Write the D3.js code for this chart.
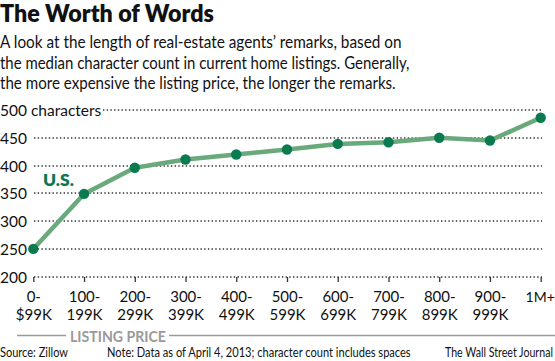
<!DOCTYPE html>
<html><head><meta charset="utf-8">
<script src="https://cdn.jsdelivr.net/npm/d3@7"></script>
<style>body{margin:0;background:#fff}svg{display:block}text{font-family:Lato,"Noto Sans",sans-serif}</style>
</head><body>
<svg id="c" width="555" height="361"></svg>
<script>
const categories = ["0-$99K","100-199K","200-299K","300-399K","400-499K","500-599K","600-699K","700-799K","800-899K","900-999K","1M+"];
const values = [250, 349, 396, 411, 420, 429, 439, 442, 450, 445, 486];
const yTicks = [200, 250, 300, 350, 400, 450, 500];
const title = "The Worth of Words";
const subtitle = ["A look at the length of real-estate agents\u2019 remarks, based on",
  "the median character count in current home listings. Generally,",
  "the more expensive the listing price, the longer the remarks."];
const seriesLabel = "U.S.";
const xTitle = "LISTING PRICE";
const source = "Source: Zillow";
const note = "Note: Data as of April 4, 2013; character count includes spaces";
const credit = "The Wall Street Journal";

const svg = d3.select("#c");
const x = d3.scalePoint().domain(categories).range([33.3, 540.7]);
const y = d3.scaleLinear().domain([200, 500]).range([276.7, 110]);
const dark = "#0b7a4f", light = "#6aa97c";

function fitText(str, x0, y0, size, weight, fill, w) {
  const g = svg.append("g").attr("transform", `translate(${x0},${y0})`);
  const t = g.append("text").attr("font-size", size).attr("font-weight", weight).attr("fill", fill).text(str);
  const nat = t.node().getComputedTextLength();
  t.attr("transform", `scale(${w / nat},1)`);
  return t;
}

fitText(title, 0, 22, 24, 800, "#111", 214);
const subW = [402, 410, 396];
subtitle.forEach((s, i) => fitText(s, 0, 48 + i * 20.6, 17.5, 400, "#111", subW[i]));

// dotted gridlines
const gridStart = d => d === 500 ? 103 : 34;
svg.append("g").attr("class", "grid").selectAll("line").data(yTicks).join("line")
  .attr("x1", d => gridStart(d)).attr("x2", 542)
  .attr("y1", d => Math.round(y(d))).attr("y2", d => Math.round(y(d)))
  .style("stroke", "#333").style("stroke-width", "1.4px").style("stroke-dasharray", "1.4 2.3");

// y axis labels
const gy = svg.append("g")
  .call(d3.axisRight(y).tickValues(yTicks).tickSize(0).tickPadding(0)
    .tickFormat(d => d === 500 ? d + " characters" : d));
gy.select(".domain").remove();
gy.selectAll(".tick text").attr("x", 0).attr("text-anchor", "start").attr("font-size", 15.5)
  .attr("fill", "#111").attr("dy", "0.35em").attr("font-family", "Lato,'Noto Sans',sans-serif");

// x axis
const gx = svg.append("g").attr("transform", `translate(0,${Math.round(y(200))})`)
  .call(d3.axisBottom(x).tickSize(5).tickPadding(0));
gx.select(".domain").remove();
gx.selectAll(".tick line").attr("stroke", "#333").attr("stroke-width", 1.3);
gx.selectAll(".tick text").each(function(d) {
  const t = d3.select(this).text("").attr("font-size", 15).attr("fill", "#111").attr("y", 0).attr("dy", null)
    .attr("font-family", "Lato,'Noto Sans',sans-serif");
  const idx = d.indexOf("-");
  const parts = idx >= 0 ? [d.slice(0, idx + 1), d.slice(idx + 1)] : [d];
  parts.forEach((p, i) => t.append("tspan").attr("x", idx >= 0 ? 0 : -1).attr("y", 25 + i * 18).text(p));
  if (idx < 0) t.attr("font-size", 14);
});

// x title with rules
svg.append("line").attr("x1", 17).attr("x2", 66).attr("y1", 335.5).attr("y2", 335.5).attr("stroke", "#999").attr("stroke-width", 1.3);
svg.append("line").attr("x1", 169).attr("x2", 555).attr("y1", 335.5).attr("y2", 335.5).attr("stroke", "#999").attr("stroke-width", 1.3);
fitText(xTitle, 70, 341.5, 16, 700, "#999", 96);

// line & dots
const line = d3.line().x((d, i) => x(categories[i])).y(d => y(d));
svg.append("path").datum(values).attr("d", line).attr("fill", "none").attr("stroke", light).attr("stroke-width", 4.5).attr("stroke-linejoin", "round");
svg.selectAll("circle.pt").data(values).join("circle").attr("class", "pt")
  .attr("cx", (d, i) => x(categories[i])).attr("cy", d => y(d)).attr("r", 5.2).attr("fill", dark);

fitText(seriesLabel, 43, 186, 17, 800, dark, 31);

fitText(source, 0, 357, 14, 400, "#111", 68);
fitText(note, 107, 357, 14, 400, "#111", 304);
fitText(credit, 445, 357, 14, 400, "#111", 108);
</script>
</body></html>
